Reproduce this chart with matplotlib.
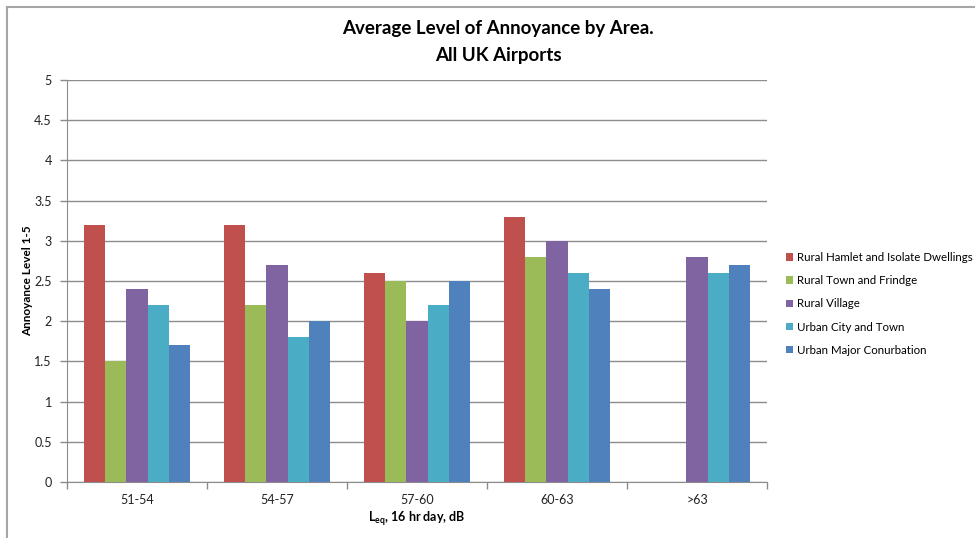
import numpy as np
import matplotlib
matplotlib.use('Agg')
import matplotlib.pyplot as plt
from matplotlib.lines import Line2D

plt.rcParams['font.family'] = ['Lato', 'DejaVu Sans']
plt.rcParams['mathtext.fontset'] = 'custom'
plt.rcParams['mathtext.bf'] = 'Lato:bold'
plt.rcParams['mathtext.rm'] = 'Lato'

bands = ['51-54', '54-57', '57-60', '60-63', '>63']
areas = ['Rural Hamlet and Isolate Dwellings', 'Rural Town and Frindge',
         'Rural Village', 'Urban City and Town', 'Urban Major Conurbation']
hamlet = [3.2, 3.2, 2.6, 3.3, np.nan]
town = [1.5, 2.2, 2.5, 2.8, np.nan]
village = [2.4, 2.7, 2.0, 3.0, 2.8]
city = [2.2, 1.8, 2.2, 2.6, 2.6]
conurb = [1.7, 2.0, 2.5, 2.4, 2.7]
series = [hamlet, town, village, city, conurb]
colors = ['#C0504D', '#9BBB59', '#8064A2', '#4BACC6', '#4F81BD']

fig = plt.figure(figsize=(9.75, 5.38), dpi=100)
ax = fig.add_axes([67 / 975, 56 / 538, 700 / 975, 402 / 538])

x = np.arange(len(bands))
w = 0.152
for i, (vals, c, name) in enumerate(zip(series, colors, areas)):
    ax.bar(x + (i - 2) * w, vals, width=w, color=c, label=name, zorder=3)

ax.set_xlim(-0.5, len(bands) - 0.5)
ax.set_ylim(0, 5)
ax.set_yticks(np.arange(0, 5.01, 0.5))
ax.set_yticklabels(['0', '0.5', '1', '1.5', '2', '2.5', '3', '3.5', '4', '4.5', '5'])
ax.yaxis.grid(True, color='#8c8c8c', linewidth=1, zorder=0)

# category labels at centres, tick marks on the boundaries
ax.set_xticks(x)
ax.set_xticklabels(bands)
ax.set_xticks(np.arange(-0.5, len(bands)), minor=True)
ax.tick_params(axis='x', which='major', length=0, pad=9)
ax.tick_params(axis='x', which='minor', length=5, color='#8c8c8c', width=1)
ax.tick_params(axis='y', length=5, color='#8c8c8c', width=1, pad=6)
ax.tick_params(labelsize=9, labelcolor='#222222')

for s in ['top', 'right']:
    ax.spines[s].set_visible(False)
for s in ['left', 'bottom']:
    ax.spines[s].set_color('#8c8c8c')

ax.set_ylabel('Annoyance Level 1-5', fontsize=8.5, fontweight='bold')
ax.yaxis.set_label_coords(-34 / 700, 0.5)
ax.set_xlabel(r'L$_{\mathbf{eq}}$, 16 hr day, dB', fontsize=9, fontweight='bold', labelpad=2)

fig.text(0.511, 1 - 42 / 538, 'Average Level of Annoyance by Area.\nAll UK Airports',
         ha='center', va='center', fontsize=13.5, fontweight='bold', linespacing=1.65)

ax.legend(loc='center left', bbox_to_anchor=(719 / 700, 0.443), frameon=False, fontsize=8.3,
          borderaxespad=0, borderpad=0,
          handlelength=0.65, handleheight=0.65, handletextpad=0.3, labelspacing=1.05)

# outer chart border
fig.add_artist(Line2D([7 / 975, 7 / 975], [0, 531 / 538], color='#a6a6a6', linewidth=1.5))
fig.add_artist(Line2D([7 / 975, 1], [531 / 538, 531 / 538], color='#a6a6a6', linewidth=1.5))

fig.savefig('out.png', dpi=100)
